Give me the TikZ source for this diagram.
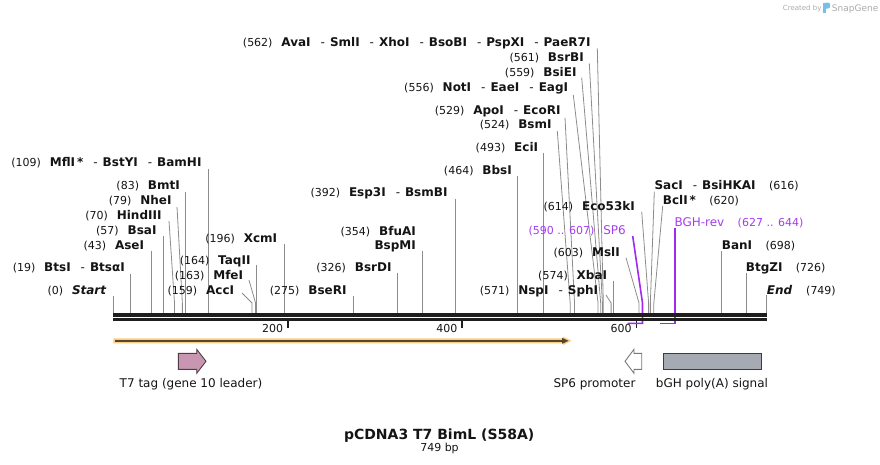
\documentclass[tikz,border=0pt]{standalone}
\usepackage{fontspec}
\setmainfont{DejaVu Sans}
\definecolor{cutgray}{RGB}{140,140,140}
\definecolor{maptxt}{RGB}{20,20,20}
\definecolor{primer}{RGB}{160,40,240}
\definecolor{ptxt}{RGB}{165,60,240}
\definecolor{mapline}{RGB}{30,30,30}
\definecolor{orfband}{RGB}{252,205,125}
\definecolor{orfline}{RGB}{85,70,50}
\definecolor{t7fill}{RGB}{201,150,178}
\definecolor{t7draw}{RGB}{80,60,70}
\definecolor{promdraw}{RGB}{120,120,120}
\definecolor{bghfill}{RGB}{166,170,178}
\definecolor{bghdraw}{RGB}{60,60,60}
\definecolor{wmgray}{RGB}{170,170,170}
\definecolor{logoblue}{RGB}{120,190,235}
\newcommand{\bpx}[1]{113.5+0.8715*#1}
\newcommand{\dsh}{\hspace{10pt}{\mdseries -}\hspace{5pt}}
\newcommand{\lsite}[5]{%
  \node[enz,anchor=base east] (e#1) at (#3,#5) {#4};
  \node[num,anchor=base east] (n#1) at ([xshift=-8.5pt]e#1.base west) {(#2)};}
\newcommand{\rsite}[5]{%
  \node[enz,anchor=base west] (e#1) at (#2,#5) {#3};
  \node[num,anchor=base west] (n#1) at ([xshift=13pt]e#1.base east) {(#4)};}
\newcommand{\scut}[3]{\draw[cut] (#1,#2) -- ({\bpx{#3}},303) -- ({\bpx{#3}},313.5);}
\newcommand{\vcut}[2]{\draw[cut] ({\bpx{#1}},#2) -- ({\bpx{#1}},313.5);}
\begin{document}
\begin{tikzpicture}[x=1pt,y=-1pt,
  num/.style={font=\fontsize{11}{13}\selectfont, text=maptxt, inner sep=0pt},
  enz/.style={font=\fontsize{12}{14}\selectfont\bfseries, text=maptxt, inner sep=0pt},
  pnum/.style={font=\fontsize{11}{13}\selectfont, text=ptxt, inner sep=0pt},
  pname/.style={font=\fontsize{12}{14}\selectfont, text=ptxt, inner sep=0pt},
  feat/.style={font=\fontsize{12}{14}\selectfont, text=maptxt, inner sep=0pt},
  cut/.style={draw=cutgray, line width=0.8pt},
  primerline/.style={draw=primer, line width=1.6pt},
  tickline/.style={draw=mapline, line width=1.8pt}]
\useasboundingbox (0,0) rectangle (880,464);
% watermark
\node[font=\fontsize{7}{8}\selectfont, text=wmgray, anchor=base west, inner sep=0pt] (cby) at (782.7,10.5) {Created by};
\fill[logoblue] (823,2.5) rectangle (825.6,13);
\fill[logoblue] (825.6,2.5) -- (828,2.5) .. controls (831,2.5) and (831,8.5) .. (828,8.5) -- (825.6,8.5) -- cycle;
\node[font=\fontsize{9}{10}\selectfont, text=wmgray, anchor=base west, inner sep=0pt] (sg) at (831.7,11) {SnapGene};
% cut lines
\vcut{0}{296}
\vcut{19}{274}
\vcut{43}{251}
\vcut{57}{236}
\scut{169}{221}{70}
\scut{177}{207}{79}
\vcut{83}{192}
\vcut{109}{169}
\scut{242}{293}{159}
\scut{249}{280}{163}
\vcut{164}{265}
\vcut{196}{244}
\vcut{275}{296}
\vcut{326}{273}
\vcut{354}{251}
\vcut{392}{199}
\vcut{464}{176}
\vcut{493}{153}
\scut{557.3}{131}{524}
\scut{565}{117.7}{529}
\scut{573.3}{95}{556}
\scut{581.7}{77.7}{559}
\scut{589.3}{63.3}{561}
\scut{597.3}{48.3}{562}
\scut{606}{295}{571}
\vcut{574}{281}
\scut{626}{257.7}{603}
\scut{641.7}{211.7}{614}
\scut{654.3}{191.7}{616}
\scut{662.7}{206}{620}
\vcut{698}{251}
\vcut{726}{273}
\vcut{749}{295}
% ticks
\foreach \t in {200,400,600}{
  \draw[tickline] ({\bpx{\t}},321) -- ({\bpx{\t}},327.5);
  \node[num, anchor=base east] (tk\t) at ({\bpx{\t}-4.5},332) {\t};
}
% primers
\draw[primerline] (632.7,236) -- ({\bpx{607}},303) -- ({\bpx{607}},323.3) -- ({\bpx{590}},323.3);
\draw[primerline] ({\bpx{644}},228.3) -- ({\bpx{644}},323.3) -- ({\bpx{627}},323.3);
% map
\draw[mapline, line width=3.3pt] (112.8,315) -- (766.7,315);
\draw[mapline, line width=2.6pt] (112.8,319.5) -- (766.7,319.5);
% left-side labels
\lsite{0}{0}{106.7}{\textit{Start}}{294}
\lsite{19}{19}{125}{BtsI\dsh BtsαI}{271.5}
\lsite{43}{43}{144.3}{AseI}{249}
\lsite{57}{57}{156.7}{BsaI}{234}
\lsite{70}{70}{161.7}{HindIII}{219}
\lsite{79}{79}{171.7}{NheI}{204}
\lsite{83}{83}{180}{BmtI}{189}
\lsite{109}{109}{201.7}{MflI\,*\dsh BstYI\dsh BamHI}{166.5}
\lsite{159}{159}{234.3}{AccI}{294}
\lsite{163}{163}{243.3}{MfeI}{279}
\lsite{164}{164}{250.7}{TaqII}{264}
\lsite{196}{196}{277.3}{XcmI}{242.5}
\lsite{275}{275}{346.7}{BseRI}{294}
\lsite{326}{326}{391.7}{BsrDI}{271}
\lsite{354}{354}{416}{BfuAI}{235}
\node[enz,anchor=base east] (e354b) at (416,249) {BspMI};
\lsite{392}{392}{447.7}{Esp3I\dsh BsmBI}{196.5}
\lsite{464}{464}{512}{BbsI}{174}
\lsite{493}{493}{538.3}{EciI}{151}
\lsite{524}{524}{551.7}{BsmI}{128.5}
\lsite{529}{529}{560.7}{ApoI\dsh EcoRI}{114}
\lsite{556}{556}{568.3}{NotI\dsh EaeI\dsh EagI}{91.5}
\lsite{559}{559}{576.7}{BsiEI}{76}
\lsite{561}{561}{584}{BsrBI}{61}
\lsite{562}{562}{590.7}{AvaI\dsh SmlI\dsh XhoI\dsh BsoBI\dsh PspXI\dsh PaeR7I}{46}
\lsite{571}{571}{598.3}{NspI\dsh SphI}{294}
\lsite{574}{574}{607.3}{XbaI}{279}
\lsite{603}{603}{620}{MslI}{256}
\lsite{614}{614}{635}{Eco53kI}{210.5}
% right-side labels
\rsite{616}{654.3}{SacI\dsh BsiHKAI}{616}{189}
\rsite{620}{662.7}{BclI\,*}{620}{204}
\rsite{698}{721.7}{BanI}{698}{249}
\rsite{726}{745.7}{BtgZI}{726}{271.5}
\node[enz,anchor=base west] (e749) at (766.7,294) {\textit{End}};
\node[num,anchor=base west] (n749) at (806,294) {(749)};
% primer labels
\node[pname, anchor=base east] (esp6) at (626,234) {SP6};
\node[pnum, anchor=base east] (nsp6) at ([xshift=-8.5pt]esp6.base west) {(590 .. 607)};
\node[pname, anchor=base west] (ebgh) at (674.3,226) {BGH-rev};
\node[pnum, anchor=base west] (nbgh) at ([xshift=13pt]ebgh.base east) {(627 .. 644)};
% ORF arrow
\fill[orfband] (113.3,338.3) -- (563,338.3) -- (563,336.5) -- (571.5,340.8) -- (563,345.1) -- (563,343.3) -- (113.3,343.3) -- cycle;
\draw[orfline, line width=1.6pt] (115,340.8) -- (563.5,340.8);
\fill[orfline] (562,337.8) -- (568.5,340.8) -- (562,343.8) -- cycle;
% features
\draw[t7draw, fill=t7fill, line width=0.9pt] (178.3,353.3) -- (196.7,353.3) -- (196.7,349.3) -- (206,361.3) -- (196.7,373.3) -- (196.7,369.3) -- (178.3,369.3) -- cycle;
\draw[promdraw, fill=white, line width=0.9pt] (641.7,353.3) -- (634,353.3) -- (634,349.3) -- (625,361.3) -- (634,373.3) -- (634,369.3) -- (641.7,369.3) -- cycle;
\draw[bghdraw, fill=bghfill, line width=0.9pt] (663.3,353.3) rectangle (761.7,369.3);
\node[feat, anchor=base] (t7l) at (191,387.5) {T7 tag (gene 10 leader)};
\node[feat, anchor=base] (sp6l) at (594.5,387.5) {SP6 promoter};
\node[feat, anchor=base] (bghl) at (712,387.5) {bGH poly(A) signal};
% title
\node[font=\fontsize{14}{16}\selectfont\bfseries, text=maptxt, anchor=base, inner sep=0pt] (title) at (439.2,439) {pCDNA3 T7 BimL (S58A)};
\node[font=\fontsize{11}{13}\selectfont, text=maptxt, anchor=base, inner sep=0pt] (len) at (439.5,451.7) {749 bp};
\end{tikzpicture}
\end{document}
